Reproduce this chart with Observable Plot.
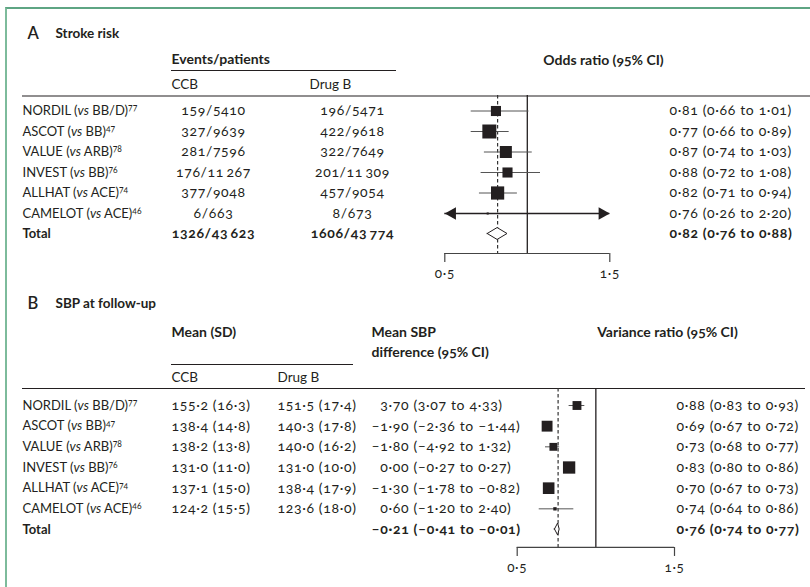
<!DOCTYPE html>
<html>
<head>
<meta charset="utf-8">
<script src="https://cdn.jsdelivr.net/npm/d3@7"></script>
<script src="https://cdn.jsdelivr.net/npm/@observablehq/plot@0.6"></script>
<style>
  body { margin: 0; background: #fff; }
  #wrap { position: relative; width: 810px; height: 587px; overflow: hidden; background: #fff; }
  #frame { position: absolute; left: 5px; top: 7px; width: 820px; height: 600px;
           border-top: 2px solid #5ea583; border-left: 2px solid #7dbb9b; }
  .panel { position: absolute; left: 0; }
  svg text { font-variant-numeric: oldstyle-nums; }
  svg text.num { letter-spacing: 0.65px; }
</style>
</head>
<body>
<div id="wrap">
  <div id="frame"></div>
  <div id="pa" class="panel" style="top:0px"></div>
  <div id="pb" class="panel" style="top:290px"></div>
</div>
<script>
// ---------------- data ----------------
const studies     = ["NORDIL", "ASCOT", "VALUE", "INVEST", "ALLHAT", "CAMELOT"];
const comparators = ["BB/D", "BB", "ARB", "BB", "ACE", "ACE"];
const refs        = [77, 47, 78, 76, 74, 46];

// Panel A: stroke risk
const ccbEvents     = [159, 327, 281, 176, 377, 6];
const ccbPatients   = [5410, 9639, 7596, 11267, 9048, 663];
const drugBEvents   = [196, 422, 322, 201, 457, 8];
const drugBPatients = [5471, 9618, 7649, 11309, 9054, 673];
const totalEventsPatients = [[1326, 43623], [1606, 43774]];
const orEst = [0.81, 0.77, 0.87, 0.88, 0.82, 0.76];
const orLo  = [0.66, 0.66, 0.74, 0.72, 0.71, 0.26];
const orHi  = [1.01, 0.89, 1.03, 1.08, 0.94, 2.20];
const orTotal = [0.82, 0.76, 0.88];
const weightA = [14, 27, 20, 14, 24, 0.6];
const ticksA = [0.5, 1.5];

// Panel B: SBP at follow-up
const ccbMean   = [155.2, 138.4, 138.2, 131.0, 137.1, 124.2];
const ccbSD     = [16.3, 14.8, 13.8, 11.0, 15.0, 15.5];
const drugBMean = [151.5, 140.3, 140.0, 131.0, 138.4, 123.6];
const drugBSD   = [17.4, 17.8, 16.2, 10.0, 17.9, 18.0];
const mdEst = [3.70, -1.90, -1.80, 0.00, -1.30, 0.60];
const mdLo  = [3.07, -2.36, -4.92, -0.27, -1.78, -1.20];
const mdHi  = [4.33, -1.44, 1.32, 0.27, -0.82, 2.40];
const mdTotal = [-0.21, -0.41, -0.01];
const vrEst = [0.88, 0.69, 0.73, 0.83, 0.70, 0.74];
const vrLo  = [0.83, 0.67, 0.68, 0.80, 0.67, 0.64];
const vrHi  = [0.93, 0.72, 0.77, 0.86, 0.73, 0.86];
const vrTotal = [0.76, 0.74, 0.77];
const weightB = [14, 21, 11, 27, 24, 2];
const ticksB = [0.5, 1.5];

// ---------------- helpers ----------------
const INK = "#231f20";
const FONT = "Lato, 'Open Sans', 'Noto Sans', sans-serif";
const dotDec = s => s.replace(/\./g, "\u00b7");
const neg = v => (v < 0 ? "\u2013" : "") + dotDec(Math.abs(v).toFixed(2));
const lead = v => (v < 0 ? "\u2013" : "\u2007") + dotDec(Math.abs(v).toFixed(2));
const n = v => v >= 10000 ? String(v).replace(/(\d+)(\d{3})$/, "$1\u2009$2") : String(v);
const ci = (e, l, h, f = neg) => `${f(e)} (${neg(l)} to ${neg(h)})`;
const label = i => `${studies[i]} (vs ${comparators[i]})${refs[i]}`;

const arrowHead = { draw(ctx, size) { const r = Math.sqrt(size / Math.PI);
  ctx.moveTo(0, 0); ctx.lineTo(1.8 * r, -r); ctx.lineTo(1.8 * r, r); ctx.closePath(); } };

function textCols(rows, total, cols) {
  const marks = [];
  for (const c of cols) {
    const base = {y: "i", text: c.field, frameAnchor: "left", dx: c.dx, textAnchor: c.anchor || "start",
                  lineAnchor: "middle", fill: INK, fontSize: c.num ? 14 : 13};
    marks.push(Plot.text(rows, base));
    if (total && total[c.field] != null) marks.push(Plot.text([total], {...base, fontWeight: "bold"}));
  }
  return marks;
}
function headers(list) {
  return list.map(h => Plot.text([h.t], {frameAnchor: "top-left", dx: h.x, dy: h.y, text: d => d,
    textAnchor: h.a || "start", lineAnchor: "middle", fontWeight: h.w || "bold", fontSize: h.s || 14, fill: INK}));
}
function forest({rows, total, ticks, axisRow, axisDy, topInset, dashed}) {
  const [lo, hi] = [ticks[0], ticks[ticks.length - 1]];
  const h = 0.29;
  const diamond = [
    {x: total.lo, y1: total.i, y2: total.i},
    {x: total.est, y1: total.i - h, y2: total.i + h},
    {x: total.hi, y1: total.i, y2: total.i}
  ];
  const arrows = [];
  rows.forEach(d => { if (d.lo < lo) arrows.push({i: d.i, x: lo, rot: 0}); if (d.hi > hi) arrows.push({i: d.i, x: hi, rot: 180}); });
  const clipped = rows.filter(d => d.lo < lo || d.hi > hi);
  const inside = rows.filter(d => !(d.lo < lo || d.hi > hi));
  const vline = {y1: () => 0, y2: () => axisRow, insetTop: topInset, insetBottom: -axisDy};
  return [
    Plot.ruleX([1], {x: d => d, ...vline, stroke: INK, strokeWidth: 1.3}),
    Plot.ruleX([dashed], {x: d => d, ...vline, stroke: "#333", strokeWidth: 1.2, strokeDasharray: "3.5,2.5"}),
    Plot.ruleY(inside, {y: "i", x1: "lo", x2: "hi", stroke: "#555", strokeWidth: 1}),
    Plot.ruleY(clipped, {y: "i", x1: d => Math.max(d.lo, lo), x2: d => Math.min(d.hi, hi), stroke: INK, strokeWidth: 1.6}),
    Plot.dot(arrows, {x: "x", y: "i", symbol: arrowHead, r: 6.2, rotate: "rot", fill: INK, stroke: "none"}),
    Plot.dot(rows, {x: "est", y: "i", r: "w", symbol: "square", fill: INK, stroke: "none"}),
    Plot.area(diamond, {x1: "x", y1: "y1", y2: "y2", fill: "white", stroke: INK, strokeWidth: 1}),
    Plot.ruleY([axisRow], {y: d => d, x1: () => lo, x2: () => hi, dy: axisDy, stroke: "#444", strokeWidth: 1.2}),
    Plot.ruleX(ticks, {x: d => d, y1: () => axisRow, y2: () => axisRow, insetBottom: -9, dy: axisDy, stroke: "#444", strokeWidth: 1.2}),
    Plot.text(ticks, {x: d => d, y: () => axisRow, dy: axisDy + 20, text: d => dotDec(d.toFixed(1)), fill: INK, fontSize: 13.5})
  ];
}
function styleText(svg) {
  const ns = "http://www.w3.org/2000/svg";
  svg.querySelectorAll("text").forEach(t => {
    const txt = t.textContent;
    if (/^[\d\u2013\u2007]/.test(txt)) { t.classList.add("num"); return; }
    const m = txt.match(/^(.*?\()vs( .*\))(\d+)$/);
    if (!m) return;
    t.textContent = "";
    const a = document.createElementNS(ns, "tspan"); a.textContent = m[1];
    const b = document.createElementNS(ns, "tspan"); b.textContent = "vs"; b.setAttribute("font-style", "italic");
    const c = document.createElementNS(ns, "tspan"); c.textContent = m[2];
    const s = document.createElementNS(ns, "tspan"); s.textContent = m[3];
    s.setAttribute("font-size", "8.5px"); s.setAttribute("dy", "-0.45em");
    t.append(a, b, c, s);
  });
}

// ---------------- panel A ----------------
const rowsA = studies.map((s, i) => ({
  i, label: label(i),
  ccb: `${ccbEvents[i]}/${n(ccbPatients[i])}`, drugB: `${drugBEvents[i]}/${n(drugBPatients[i])}`,
  est: orEst[i], lo: orLo[i], hi: orHi[i], w: weightA[i], ci: ci(orEst[i], orLo[i], orHi[i])
}));
const totalA = {
  i: studies.length, label: "Total",
  ccb: `${totalEventsPatients[0][0]}/${n(totalEventsPatients[0][1])}`,
  drugB: `${totalEventsPatients[1][0]}/${n(totalEventsPatients[1][1])}`,
  est: orTotal[0], lo: orTotal[1], hi: orTotal[2], ci: ci(...orTotal)
};
const plotA = Plot.plot({
  width: 810, height: 290, margin: 0,
  style: {fontFamily: FONT, fontSize: "13px", color: INK, background: "transparent", overflow: "visible"},
  x: {domain: [0.5, 1.5], range: [444.3, 609.3], axis: null},
  y: {domain: [0, 6], range: [110.5, 233.5], axis: null},
  r: {type: "sqrt", domain: [0, 27], range: [0, 7.9]},
  marks: [
    ...headers([
      {t: "A", x: 27, y: 33, s: 16.5, w: 600},
      {t: "Stroke risk", x: 55, y: 33, s: 13.5},
      {t: "Events/patients", x: 171, y: 59},
      {t: "Odds ratio (95% CI)", x: 603, y: 60, a: "middle"},
      {t: "CCB", x: 171, y: 84, w: "normal", s: 13.5},
      {t: "Drug B", x: 309, y: 84, w: "normal", s: 13.5}
    ]),
    Plot.ruleY([0], {y: d => d, dy: -40.5, insetLeft: 171, insetRight: 810 - 396, stroke: INK, strokeWidth: 1.2}),
    Plot.ruleY([0], {y: d => d, dy: -15, insetLeft: 22, insetRight: 0, stroke: INK, strokeWidth: 1.2}),
    ...textCols(rowsA, totalA, [
      {field: "label", dx: 22},
      {field: "ccb", dx: 213, anchor: "middle", num: true},
      {field: "drugB", dx: 352, anchor: "middle", num: true},
      {field: "ci", dx: 669, num: true}
    ]),
    ...forest({rows: rowsA, total: totalA, ticks: ticksA, axisRow: 7, axisDy: -1, topInset: -15.5, dashed: orTotal[0]})
  ]
});
styleText(plotA);
document.getElementById("pa").append(plotA);

// ---------------- panel B ----------------
const f1 = v => dotDec(v.toFixed(1));
const rowsB = studies.map((s, i) => ({
  i, label: label(i),
  ccb: `${f1(ccbMean[i])} (${f1(ccbSD[i])})`, drugB: `${f1(drugBMean[i])} (${f1(drugBSD[i])})`,
  md: ci(mdEst[i], mdLo[i], mdHi[i], lead),
  est: vrEst[i], lo: vrLo[i], hi: vrHi[i], w: weightB[i], ci: ci(vrEst[i], vrLo[i], vrHi[i])
}));
const totalB = {
  i: studies.length, label: "Total", md: ci(...mdTotal, lead),
  est: vrTotal[0], lo: vrTotal[1], hi: vrTotal[2], ci: ci(...vrTotal)
};
const plotB = Plot.plot({
  width: 810, height: 297, margin: 0,
  style: {fontFamily: FONT, fontSize: "13px", color: INK, background: "transparent", overflow: "visible"},
  x: {domain: [0.5, 1.5], range: [516.7, 674], axis: null},
  y: {domain: [0, 6], range: [115, 239], axis: null},
  r: {type: "sqrt", domain: [0, 27], range: [0, 6.95]},
  marks: [
    ...headers([
      {t: "B", x: 27, y: 13, s: 16.5, w: 600},
      {t: "SBP at follow-up", x: 55, y: 13, s: 13.5},
      {t: "Mean (SD)", x: 171, y: 42},
      {t: "Mean SBP", x: 371, y: 42},
      {t: "difference (95% CI)", x: 371, y: 62},
      {t: "Variance ratio (95% CI)", x: 667, y: 42, a: "middle"},
      {t: "CCB", x: 171, y: 87, w: "normal", s: 13.5},
      {t: "Drug B", x: 277, y: 87, w: "normal", s: 13.5}
    ]),
    Plot.ruleY([0], {y: d => d, dy: -41, insetLeft: 171, insetRight: 810 - 353, stroke: INK, strokeWidth: 1.2}),
    Plot.ruleY([0], {y: d => d, dy: -17, insetLeft: 22, insetRight: 5, stroke: INK, strokeWidth: 1.2}),
    ...textCols(rowsB, totalB, [
      {field: "label", dx: 22},
      {field: "ccb", dx: 171, num: true},
      {field: "drugB", dx: 277, num: true},
      {field: "md", dx: 371, num: true},
      {field: "ci", dx: 676, num: true}
    ]),
    ...forest({rows: rowsB, total: totalB, ticks: ticksB, axisRow: 7, axisDy: -2.7, topInset: -17, dashed: vrTotal[0]})
  ]
});
styleText(plotB);
document.getElementById("pb").append(plotB);
</script>
</body>
</html>
